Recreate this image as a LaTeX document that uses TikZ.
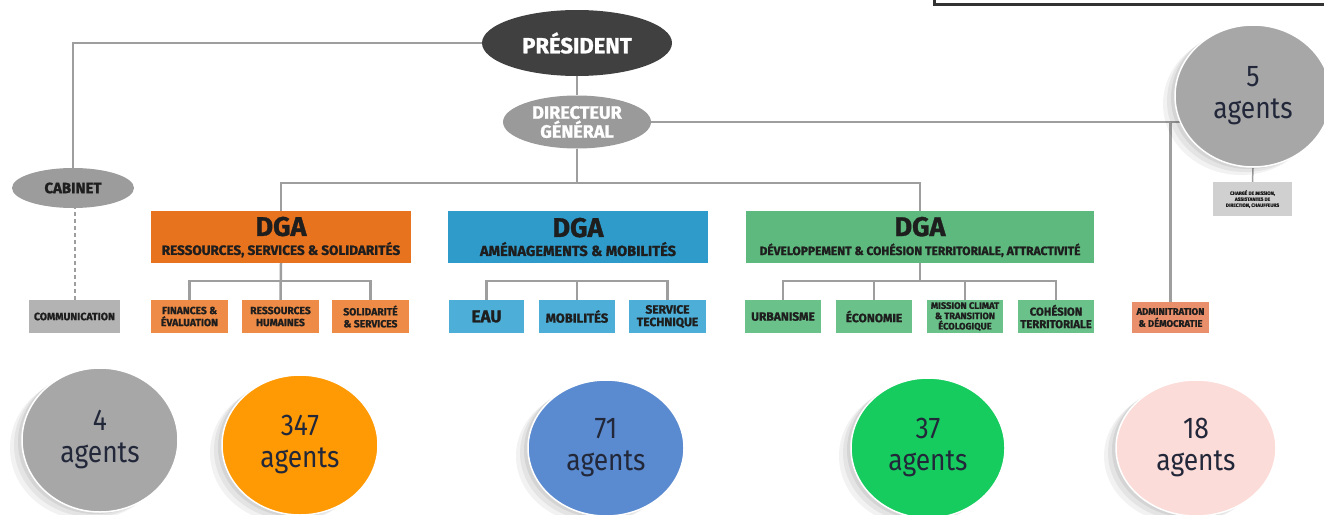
\documentclass[tikz,border=0pt]{standalone}
\usepackage{fontspec}
\setmainfont{Fira Sans}
\newfontfamily\labf{Fira Sans}[BoldFeatures={FakeBold=1.2}]
\newfontfamily\agf{Fira Sans}[FakeStretch=0.88]
\usetikzlibrary{shapes.geometric,shadows,backgrounds}
\newcommand\myfs[2]{\fontsize{#1}{#2}\selectfont}
\definecolor{lineg}{HTML}{9E9E9E}
\definecolor{framec}{HTML}{333333}
\definecolor{presc}{HTML}{404040}
\definecolor{dgc}{HTML}{9A9A9A}
\definecolor{cabc}{HTML}{9C9C9C}
\definecolor{comc}{HTML}{B3B3B3}
\definecolor{txt}{HTML}{1E1E1E}
\definecolor{orD}{HTML}{E8731F}
\definecolor{orS}{HTML}{EE8C47}
\definecolor{blD}{HTML}{2F9BCB}
\definecolor{blS}{HTML}{4DAED8}
\definecolor{grD}{HTML}{5DB97D}
\definecolor{grS}{HTML}{6AC189}
\definecolor{admc}{HTML}{E98F6B}
\definecolor{chgc}{HTML}{D0D0D0}
\definecolor{agtxt}{HTML}{22283A}
\definecolor{cgray}{HTML}{A7A7A7}
\definecolor{corange}{HTML}{FF9A05}
\definecolor{cblue}{HTML}{5A8ACF}
\definecolor{cgreen}{HTML}{17CC5F}
\definecolor{cpink}{HTML}{FCDCD8}
\tikzset{
  conn/.style={draw=lineg, line width=2.5pt},
  oval/.style={ellipse, inner sep=0pt, align=center, text=white},
  box/.style={rectangle, inner sep=0pt, align=center, text=txt},
  bubble/.style={ellipse, inner sep=0pt, align=center, text=agtxt, font=\agf\myfs{30}{32},
    draw=white, line width=1.5pt,
    drop shadow={shadow xshift=-12pt, shadow yshift=-8pt, opacity=0.05, fill=black},
    drop shadow={shadow xshift=-8pt, shadow yshift=-5pt, opacity=0.06, fill=black},
    drop shadow={shadow xshift=-4pt, shadow yshift=-2pt, opacity=0.07, fill=black}},
}
\begin{document}
\begin{tikzpicture}[x=1pt,y=-1pt]
\useasboundingbox (0,0) rectangle (1324,514);
% top-right frame
\draw[line width=3pt, draw=framec] (934,-20) rectangle (1345,4);

% top nodes
\node[oval, fill=presc, minimum width=190, minimum height=66, font=\labf\bfseries\myfs{22}{24}] (pres) at (577,43) {PRÉSIDENT};
\node[oval, fill=dgc, minimum width=148, minimum height=53, font=\labf\bfseries\myfs{18}{19}] (dg) at (577,122) {DIRECTEUR\\GÉNÉRAL};
\node[oval, fill=cabc, minimum width=122, minimum height=40, text=txt, font=\labf\bfseries\myfs{15}{16}] (cab) at (73,188) {CABINET};

% 5 agents bubble
\node[bubble, fill=cgray, minimum width=156, minimum height=142] (c5) at (1253,96) {5\\agents};
\node[box, fill=chgc, minimum width=79, minimum height=34, font=\labf\bfseries\myfs{4.8}{6}] (chg) at (1252.5,199) {CHARGÉ DE MISSION,\\ASSISTANTES DE\\DIRECTION, CHAUFFEURS};

% DGA boxes
\node[box, fill=orD, minimum width=260, minimum height=52, font=\labf\bfseries\myfs{13.5}{19}] (dga1) at (281,237) {{\myfs{27}{19}DGA}\\RESSOURCES, SERVICES \& SOLIDARITÉS};
\node[box, fill=blD, minimum width=260, minimum height=52, font=\labf\bfseries\myfs{14.6}{19}] (dga2) at (578,237) {{\myfs{27}{19}DGA}\\AMÉNAGEMENTS \& MOBILITÉS};
\node[box, fill=grD, minimum width=348, minimum height=52, font=\labf\bfseries\myfs{12}{19}] (dga3) at (920,237) {{\myfs{27}{19}DGA}\\DÉVELOPPEMENT \& COHÉSION TERRITORIALE, ATTRACTIVITÉ};

% sub boxes
\node[box, fill=comc, minimum width=91, minimum height=33, font=\labf\bfseries\myfs{10.5}{12}] (com) at (74.5,316.5) {COMMUNICATION};
\node[box, fill=orS, minimum width=77, minimum height=33, font=\labf\bfseries\myfs{10.3}{12}] (f1) at (189.5,316.5) {FINANCES \&\\ÉVALUATION};
\node[box, fill=orS, minimum width=77, minimum height=33, font=\labf\bfseries\myfs{10.3}{12}] (f2) at (280.5,316.5) {RESSOURCES\\HUMAINES};
\node[box, fill=orS, minimum width=77, minimum height=33, font=\labf\bfseries\myfs{10.3}{12}] (f3) at (370.5,316.5) {SOLIDARITÉ\\\& SERVICES};
\node[box, fill=blS, minimum width=75, minimum height=33, font=\labf\bfseries\myfs{17}{18}] (b1) at (486.5,316.5) {EAU};
\node[box, fill=blS, minimum width=76, minimum height=33, font=\labf\bfseries\myfs{13}{14}] (b2) at (577,316.5) {MOBILITÉS};
\node[box, fill=blS, minimum width=77, minimum height=33, font=\labf\bfseries\myfs{12}{12.5}] (b3) at (667.5,316.5) {SERVICE\\TECHNIQUE};
\node[box, fill=grS, minimum width=76, minimum height=33, font=\labf\bfseries\myfs{12}{13}] (g1) at (783,316.5) {URBANISME};
\node[box, fill=grS, minimum width=76, minimum height=33, font=\labf\bfseries\myfs{12}{13}] (g2) at (874,316.5) {ÉCONOMIE};
\node[box, fill=grS, minimum width=76, minimum height=33, font=\labf\bfseries\myfs{9.3}{10.3}] (g3) at (965,316.5) {MISSION CLIMAT\\\& TRANSITION\\ÉCOLOGIQUE};
\node[box, fill=grS, minimum width=76, minimum height=33, font=\labf\bfseries\myfs{11.3}{12.5}] (g4) at (1056,316.5) {COHÉSION\\TERRITORIALE};
\node[box, fill=admc, minimum width=77, minimum height=31, font=\labf\bfseries\myfs{9.5}{12}] (adm) at (1170.5,317.5) {ADMINITRATION\\\& DÉMOCRATIE};

% agent bubbles
\node[bubble, fill=cgray, minimum width=156, minimum height=144] (c4) at (100,440) {4\\agents};
\node[bubble, fill=corange, minimum width=156, minimum height=140] (c347) at (300,445) {347\\agents};
\node[bubble, fill=cblue, minimum width=156, minimum height=136] (c71) at (606,448) {71\\agents};
\node[bubble, fill=cgreen, minimum width=154, minimum height=140] (c37) at (928,448) {37\\agents};
\node[bubble, fill=cpink, minimum width=160, minimum height=136] (c18) at (1196,448) {18\\agents};

% connectors (behind the nodes)
\begin{pgfonlayer}{background}
\draw[conn] (pres) -- (dg);
\draw[conn] (pres.west) -| (cab.north);
\coordinate (busL) at (281,183);
\coordinate (busR) at (920,183);
\draw[conn] (dga1.north) -- (busL) -- (busR) -- (dga3.north);
\draw[conn] (dg.south) -- (dg.south |- busL);
\draw[conn] (dg.east) -- (dg.east -| c5.center);
\draw[conn] (dg.east -| adm.north) -- (adm.north);
\draw[draw=lineg, line width=1.5pt] (c5.south) -- (chg.north);
\draw[draw=lineg, line width=2pt, dash pattern=on 4pt off 3pt] (com.north) -- (com.north |- cab.south);
% orange group
\draw[conn] (f1.north) -- ++(0,-19) -| (f3.north);
\draw[conn] (dga1.south) -- (f2.north);
% blue group
\draw[conn] (b1.north) -- ++(0,-19) -| (b3.north);
\draw[conn] (b2.north) -- ++(0,-19);
% green group
\draw[conn] (g1.north) -- ++(0,-19) -| (g4.north);
\draw[conn] (g2.north) -- ++(0,-19);
\draw[conn] (g3.north) -- ++(0,-19);
\draw[conn] (dga3.south) -- ++(0,18);
\end{pgfonlayer}
\end{tikzpicture}
\end{document}
